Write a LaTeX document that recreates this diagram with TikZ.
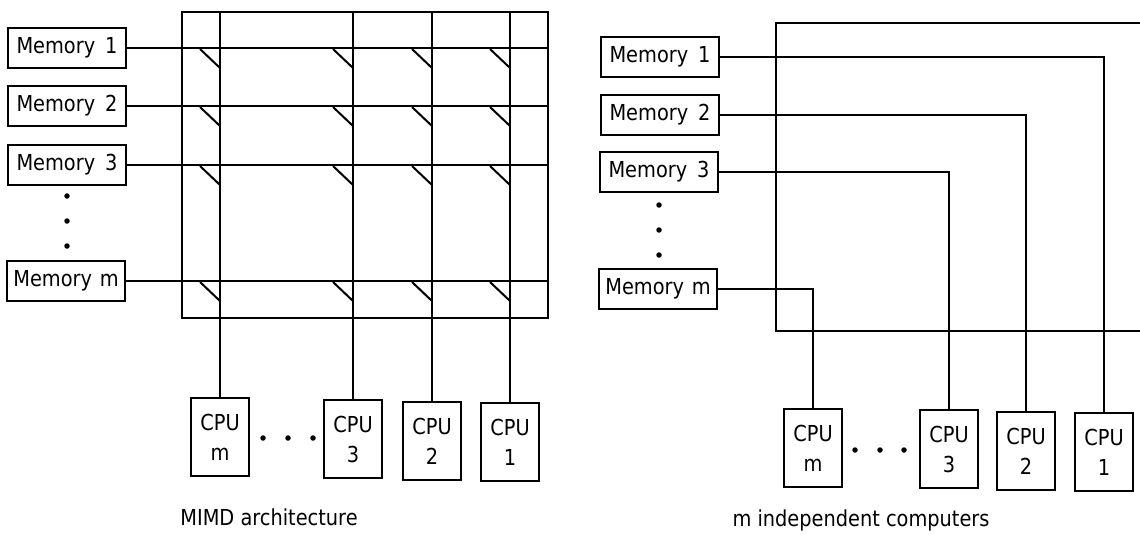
\documentclass[tikz,border=0pt]{standalone}
\usepackage{fontspec}
\setmainfont{DejaVu Sans}[FakeStretch=0.88]
\begin{document}
\begin{tikzpicture}[x=1pt,y=-1pt,line width=2.3pt,
  mem/.style={draw,minimum width=118pt,minimum height=40pt,inner sep=0pt,font=\fontsize{22}{26}\selectfont},
  cpu/.style={draw,minimum width=58pt,minimum height=78pt,inner sep=0pt,align=center,font=\fontsize{22}{30}\selectfont},
  dot/.style={circle,fill,inner sep=0pt,minimum size=5.5pt},
  captext/.style={font=\fontsize{22}{26}\selectfont},
  switchmark/.style={line width=2pt}]
\useasboundingbox (0,0) rectangle (1140,538);

% ---------- left: MIMD architecture ----------
\draw (182,12) rectangle (548,318);
\coordinate (lR) at (548,0);
\coordinate (lT) at (0,12);

\node[mem] (lm1) at (67,48)  {Memory\hspace{0.45em}1};
\node[mem] (lm2) at (67,106) {Memory\hspace{0.45em}2};
\node[mem] (lm3) at (67,165) {Memory\hspace{0.45em}3};
\node[mem] (lmm) at (66,281) {Memory\hspace{0.35em}m};
\node[dot] (ld1) at (67,196) {};
\node[dot] (ld2) at (67,221) {};
\node[dot] (ld3) at (67,246) {};

\node[cpu] (lcm) at (220,437) {CPU\\m};
\node[cpu] (lc3) at (353,439) {CPU\\3};
\node[cpu] (lc2) at (432,441) {CPU\\2};
\node[cpu] (lc1) at (510,442) {CPU\\1};
\node[dot] (lcd1) at (263,438) {};
\node[dot] (lcd2) at (288,438) {};
\node[dot] (lcd3) at (313,438) {};

\foreach \m in {lm1,lm2,lm3,lmm} \draw (\m.east) -- (\m.east -| lR);
\foreach \c in {lcm,lc3,lc2,lc1} \draw (\c.north) -- (\c.north |- lT);
\foreach \r in {48,106,165,281}
  \foreach \c in {220,353,432,510}
    \draw[switchmark] ({\c-20},{\r+1}) -- (\c,{\r+20});

\node[captext] (lcap) at (269,517) {MIMD architecture};

% ---------- right: m independent computers ----------
\coordinate (rTR) at (1145,23);
\coordinate (rTL) at (776,23);
\coordinate (rBL) at (776,331);
\coordinate (rBR) at (1145,331);
\draw (rTR) -- (rTL) -- (rBL) -- (rBR);

\node[mem] (rm1) at (660,57)  {Memory\hspace{0.45em}1};
\node[mem] (rm2) at (660,115) {Memory\hspace{0.45em}2};
\node[mem] (rm3) at (659,172) {Memory\hspace{0.45em}3};
\node[mem] (rmm) at (658,289) {Memory\hspace{0.35em}m};
\node[dot] (rd1) at (659,205) {};
\node[dot] (rd2) at (659,230) {};
\node[dot] (rd3) at (659,255) {};

\node[cpu] (rcm) at (813,448)  {CPU\\m};
\node[cpu] (rc3) at (949,449)  {CPU\\3};
\node[cpu] (rc2) at (1026,451) {CPU\\2};
\node[cpu] (rc1) at (1104,452) {CPU\\1};
\node[dot] (rcd1) at (855,450) {};
\node[dot] (rcd2) at (880,450) {};
\node[dot] (rcd3) at (904,450) {};

\draw (rm1.east) -| (rc1.north);
\draw (rm2.east) -| (rc2.north);
\draw (rm3.east) -| (rc3.north);
\draw (rmm.east) -| (rcm.north);

\node[captext] (rcap) at (861,520) {m independent computers};
\end{tikzpicture}
\end{document}
